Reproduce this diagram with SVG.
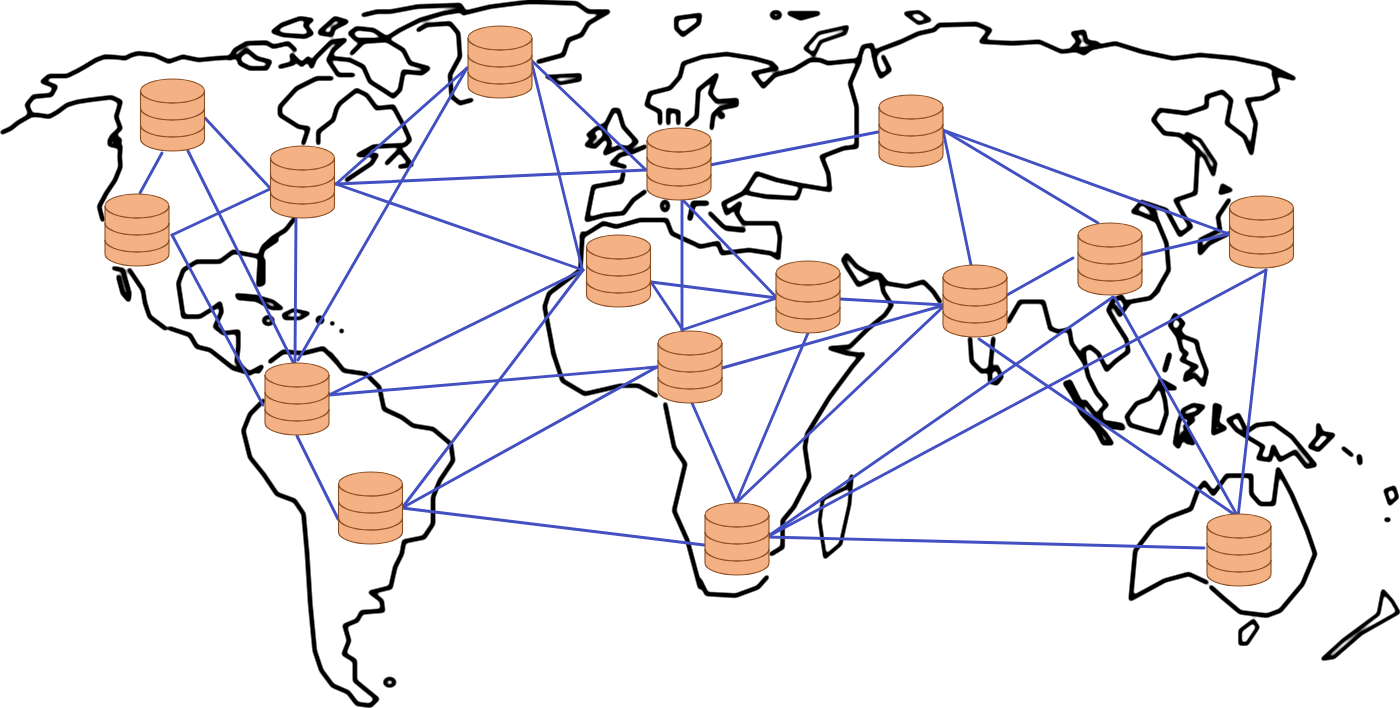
<svg xmlns="http://www.w3.org/2000/svg" width="1400" height="708" viewBox="0 0 1400 708">
<style>
.c{fill:none;stroke:#000;stroke-width:4.6;stroke-linejoin:round;stroke-linecap:round;vector-effect:non-scaling-stroke}
.t{stroke-width:3.8}
.h{stroke-width:5.6}
#links line{stroke:#4250c2;stroke-width:2.9;stroke-linecap:round}
.b{fill:#f4b183;stroke:#8a4f25;stroke-width:1.1}
.a{fill:none;stroke:#8a4f25;stroke-width:1.3}
</style>
<defs>
<filter id="soft" filterUnits="userSpaceOnUse" x="0" y="0" width="1400" height="708">
<feGaussianBlur stdDeviation="1.5"/>
<feComponentTransfer><feFuncA type="linear" slope="2.6" intercept="-.8"/></feComponentTransfer>
</filter>
<g id="db"><path class="b" d="M0,12A32,12 0 0 1 64,12V60A32,12 0 0 1 0,60Z"/><path class="a" d="M0,12A32,12 0 0 0 64,12M0,29A32,12 0 0 0 64,29M0,46A32,12 0 0 0 64,46"/></g>
</defs>
<rect width="1400" height="708" fill="#fff"/>
<g id="map" filter="url(#soft)">
<g id="q1" transform="scale(.4464,.3333)">
<polyline class="c" points="5,397 25,385 40,368 70,345 60,315 75,290 115,285 125,260 95,245 110,228 150,228 170,215 190,200 215,180 235,170 260,172 280,175 295,165 310,160 345,165 378,185 410,170 445,180 485,175 525,172"/>
<polyline class="c" points="65,345 85,345 110,350 130,335 150,315 175,305 200,300 250,292 270,305 265,330 260,350 270,385 250,410 270,440 268,470 270,500 258,540 238,580 222,620 230,660"/>
<polyline class="c t" points="245,420 255,405 270,420 262,440 245,435 245,420"/>
<polyline class="c" points="255,805 275,810 290,880 288,900 275,880 265,830"/>
<polyline class="c" points="290,810 320,870 325,910 335,950 370,985"/>
<polyline class="c" points="660,655 640,690 610,715 590,740 585,770"/>
<polyline class="c" points="1515,55 1568,45 1565,70 1530,105 1515,85 1515,55"/>
<polyline class="c" points="1305,700 1300,810 1230,880 1220,920 1240,1062"/>
</g>
<g id="canada" transform="translate(230,0) scale(.3333)">
<polyline class="c" points="0,175 15,150 50,130 110,128 130,140 175,130 195,150"/>
<polyline class="c" points="25,170 50,150 80,175 120,185 110,205 60,205 30,190 25,170"/>
<polyline class="c" points="130,95 155,75 210,55 245,60 225,75 245,100 225,110 160,105 130,95"/>
<polyline class="c" points="270,95 315,55 350,65 310,85 305,105 270,100"/>
<polyline class="c" points="150,200 190,190 185,165 215,195 235,175 245,200 255,175 305,125 345,120 310,150 295,180 325,225 370,225"/>
<polyline class="c" points="365,160 400,125 470,120 520,150 540,190 595,205 575,220 520,215 510,270 490,290 460,270 420,245 400,200 360,180 310,175"/>
<polyline class="c" points="400,45 440,35 480,35 560,20 690,15 700,30 640,40 570,60 510,90 470,115 430,90 380,85 360,100 380,120 470,120"/>
<polyline class="c" points="700,40 780,20 900,5 1040,10 1075,35 1135,35 1075,70 1055,105 1015,120 1000,165 925,185"/>
<polyline class="c" points="565,90 590,75 660,70 685,100 690,170 660,225 665,290 690,310 725,300"/>
<polyline class="c t" points="950,230 1050,225 1050,240 990,250 950,230"/>
<polyline class="c" points="305,235 260,235 200,265 150,320 150,345 205,380 235,385 220,430"/>
<polyline class="c" points="265,430 265,395 310,360 320,325 330,310 380,270 410,285 440,325 490,320 520,375 540,420 525,435 430,440 385,465 440,465 425,490 380,520 350,540"/>
<polyline class="c" points="470,490 510,450 545,495 510,500"/>
</g>
<g id="carib" transform="translate(170,240) scale(.3333)">
<polyline class="c" points="0,265 60,285 80,320 120,330 190,385 240,400 275,380 265,395"/>
<polyline class="c" points="270,50 190,35 150,65 80,65 40,90 25,130 40,230 90,230 130,205 150,190 155,215 135,260 160,280 205,275 205,320 200,365 235,400"/>
<polyline class="c" points="320,0 275,30 270,55 265,135 280,130 280,60"/>
<polyline class="c t" points="200,165 260,170 310,185 335,205 305,205 260,180 205,175 200,165"/>
<polyline class="c t" points="340,225 370,210 415,220 390,235 345,235 340,225"/>
<ellipse class="c t" cx="295" cy="242" rx="14" ry="11"/>
<circle cx="450" cy="240" r="14"/><circle cx="487" cy="250" r="8"/><circle cx="515" cy="273" r="8"/>
<polyline class="c" points="300,365 340,335 400,340 460,325 500,365"/>
</g>
<g id="q3" transform="translate(0,354) scale(.4464,.3333)">
<polyline class="c" points="740,0 770,50 820,60 850,100 860,165 900,190 925,215 970,225 1010,270 1015,320 985,380 970,430 970,510 950,550 905,562 900,600 885,640 875,700 830,715 855,740 858,770 810,775 800,800 772,815 782,860 770,900 795,920 795,980 845,1035 830,1055 800,1050 780,1015 745,995 720,950 705,890 695,750 688,600 680,480 660,440 620,420 590,360 560,310 545,230 560,180 590,140"/>
<circle class="c t" cx="873" cy="985" r="11"/>
<polyline class="c" points="1240,0 1260,80 1310,120 1390,95 1430,95 1470,125"/>
<polyline class="c" points="1490,150 1510,280 1535,330 1510,470 1540,560 1568,700"/>
</g>
<g id="europe" transform="translate(580,40) scale(.3333)">
<polyline class="c" points="100,210 115,210 130,260 170,305 145,325 120,320 75,340 90,310 70,270 100,210"/>
<polyline class="c" points="50,265 75,255 75,290 45,320 20,315 45,290 25,285 50,265"/>
<polyline class="c" points="195,320 160,335 120,345 95,370 135,380"/>
<polyline class="c" points="130,400 125,425 40,440 20,540 75,525 130,520 160,480 195,455"/>
<polyline class="c" points="240,250 240,215 200,195 210,160 270,145 300,110 310,70 370,50 440,42 520,55 575,70 590,85 520,100 550,140 585,105 640,90 690,60 720,60 745,70 840,60 810,130 830,200 830,320 790,325 725,350 745,400 750,450 660,435 590,420 530,400 505,440 490,460 430,490 440,520 480,490 470,520 490,550 590,550 600,590 595,651"/>
<polyline class="c" points="265,250 265,210 295,215 295,250"/>
<polyline class="c" points="320,255 350,230 355,150 410,105 390,160 410,185 470,180 470,195 420,205 400,225 395,265"/>
<circle cx="425" cy="227" r="11"/>
<polyline class="c" points="505,460 560,470 650,475 660,450"/>
<polyline class="c h" points="380,490 340,490 330,535"/>
<polyline class="c" points="390,520 430,560"/>
<polyline class="c h" points="440,565 490,570"/>
<ellipse class="c t" cx="255" cy="498" rx="10" ry="14"/>
<polyline class="c" points="5,590 30,575 70,550 110,560 180,540 260,540 275,580 340,610 360,620 414,609 426,640 507,630 573,640 595,654"/>
</g>
<g id="q2" transform="translate(700,0) scale(.4464,.3333)">
<polyline class="c t" points="235,145 265,100 330,80 325,100 270,125 255,165 235,145"/>
<circle class="c t" cx="170" cy="45" r="10"/>
<polyline class="c" points="200,40 265,40 225,55 200,40"/>
<polyline class="c t" points="460,40 490,35 515,60 490,70 460,40"/>
<polyline class="c" points="355,182 365,140 385,135 390,170 400,150 450,125 490,100 525,90 535,75 620,72 650,90 630,125 700,130 760,125 810,155 870,145 930,130 990,155 1060,175 1120,165 1200,175 1270,195 1330,235 1285,220 1295,270 1260,295 1225,300 1245,370 1235,460 1220,410 1180,370 1190,300 1170,275 1135,290 1135,320 1090,340 1030,330 1015,360 1040,400 1075,405 1115,450 1110,580 1065,600 1085,650 1100,680 1075,705 1045,630 1000,610 1020,650 1045,730 1050,810 1020,880"/>
<polyline class="c" points="390,170 395,200 405,230 425,210 410,170"/>
<polyline class="c" points="835,100 860,95 865,125 890,130 860,160 835,145 850,125 835,100"/>
<polyline class="c t" points="1090,400 1120,420 1155,490 1150,525 1130,470 1100,430 1090,400"/>
<polyline class="c t" points="1170,555 1190,570 1165,580 1170,555"/>
<polyline class="c" points="1185,600 1160,650 1165,690 1120,720 1120,760 1140,730 1185,700"/>
<polyline class="c" points="970,635 990,605 1020,640 1020,660 985,640 970,635"/>
</g>
<g id="india" transform="translate(830,250) scale(.3333)">
<polyline class="c" points="40,30 50,15 80,50 115,70 150,75 170,100 230,110 280,95 310,125 330,155"/>
<polyline class="c" points="40,30 50,50 85,105 130,85 150,75 160,125 185,165 165,195 110,240 60,290 0,295 50,310 95,315"/>
<polyline class="c" points="420,265 425,335 455,365 480,360 490,265"/>
<polyline class="c" points="480,365 500,350 515,380 500,400 480,395 480,365"/>
<polyline class="c" points="535,215 570,155 640,155 660,232"/>
</g>
<g id="seasia" transform="translate(1050,290) scale(.3333)">
<polyline class="c" points="0,115 25,125 58,118 65,160 85,190 105,220 115,260 140,310 170,345 150,365 155,395 215,405 220,415 180,410 145,385 105,335 90,350"/>
<polyline class="c" points="105,220 100,180 120,170 145,190 170,240 195,215 235,185 230,150 195,95 175,60 190,30 215,20 225,40 240,35 300,25 325,0"/>
<polyline class="c" points="195,50 210,75 235,40"/>
<polyline class="c" points="45,280 60,275 90,335 100,365 135,400 165,430 185,460 160,460 140,420 95,370 70,320 45,280"/>
<polyline class="c" points="360,105 375,75 400,100 385,120 400,140 440,155 445,180 470,245 460,285 435,255 405,270 410,250 440,230 395,210 410,190 395,180 385,140 360,105"/>
<polyline class="c h" points="358,195 345,240"/>
<polyline class="c" points="330,280 345,330 350,370 330,430 290,420 240,405 230,380 260,340 300,325 330,280"/>
<polyline class="c" points="330,270 375,295 350,295"/>
<polyline class="c" points="375,460 385,400 400,360 430,345 460,350 440,370 405,380 430,390 405,410 430,460 410,455 400,430 385,470 375,460"/>
<polyline class="c" points="495,345 510,350 500,400 525,415 490,430 495,345"/>
<polyline class="c" points="535,390 565,375 590,425 620,405 670,400 725,440 795,525 770,530 735,485 690,510 670,470 660,510 625,505 640,470 590,440 560,420 535,390"/>
<polyline class="c" points="805,405 815,430 850,435 805,480 780,470 805,440 805,405"/>
<polyline class="c" points="880,475 905,495"/>
<polyline class="c h" points="928,500 930,518"/>
</g>
<g id="q4" transform="translate(700,354) scale(.4464,.3333)">
<polyline class="c" points="0,680 15,720 80,725 130,700 150,670"/>
<polyline class="c" points="365,0 340,40 290,130 240,240 235,280 245,370 210,460 185,500 185,580 160,600"/>
<polyline class="c t" points="340,365 330,400 275,435 268,500 280,610 315,570 335,450 340,365"/>
<polyline class="c t" points="1535,410 1555,400 1562,430 1545,450 1535,410"/>
<circle cx="1540" cy="497" r="8"/>
<polyline class="c" points="1115,410 1130,385 1150,420 1180,365 1235,365 1235,420 1255,450 1285,450 1295,345 1325,420 1360,530 1378,600 1350,690 1300,770 1270,785 1210,775 1170,730 1145,700"/>
<polyline class="c" points="1135,685 1095,660 1040,680 965,735 975,590 1015,520 1050,490 1100,465 1115,410"/>
<polyline class="c t" points="1240,800 1250,820 1225,870 1210,870 1210,830 1240,800"/>
<polyline class="c t" points="1530,710 1550,740 1565,775 1480,840 1420,910 1395,915 1440,860 1520,780 1530,710"/>
</g>
</g>
<g id="links">
<line x1="162" y1="153" x2="140" y2="193"/>
<line x1="205" y1="118" x2="269" y2="187"/>
<line x1="188" y1="151" x2="293" y2="362"/>
<line x1="172" y1="235" x2="270" y2="189"/>
<line x1="172" y1="235" x2="263" y2="405"/>
<line x1="336" y1="184" x2="467" y2="68"/>
<line x1="336" y1="184" x2="646" y2="170"/>
<line x1="336" y1="184" x2="583" y2="270"/>
<line x1="296" y1="217" x2="295" y2="362"/>
<line x1="467" y1="68" x2="298" y2="360"/>
<line x1="531" y1="60" x2="646" y2="170"/>
<line x1="531" y1="60" x2="582" y2="268"/>
<line x1="710" y1="165" x2="878" y2="132"/>
<line x1="680" y1="197" x2="777" y2="298"/>
<line x1="682" y1="197" x2="682" y2="330"/>
<line x1="943" y1="130" x2="971" y2="265"/>
<line x1="943" y1="130" x2="1098" y2="223"/>
<line x1="943" y1="130" x2="1229" y2="234"/>
<line x1="1140" y1="255" x2="1229" y2="234"/>
<line x1="1007" y1="295" x2="1073" y2="258"/>
<line x1="840" y1="299" x2="945" y2="305"/>
<line x1="651" y1="282" x2="777" y2="298"/>
<line x1="651" y1="282" x2="683" y2="330"/>
<line x1="682" y1="330" x2="777" y2="298"/>
<line x1="722" y1="368" x2="945" y2="305"/>
<line x1="808" y1="333" x2="736" y2="503"/>
<line x1="945" y1="305" x2="736" y2="503"/>
<line x1="692" y1="403" x2="736" y2="503"/>
<line x1="583" y1="270" x2="329" y2="395"/>
<line x1="583" y1="270" x2="402" y2="508"/>
<line x1="657" y1="367" x2="329" y2="395"/>
<line x1="657" y1="367" x2="402" y2="508"/>
<line x1="297" y1="436" x2="338" y2="519"/>
<line x1="402" y1="508" x2="704" y2="545"/>
<line x1="767" y1="537" x2="1204" y2="548"/>
<line x1="767" y1="537" x2="1113" y2="297"/>
<line x1="767" y1="537" x2="1266" y2="270"/>
<line x1="979" y1="339" x2="1238" y2="517"/>
<line x1="1115" y1="298" x2="1238" y2="517"/>
<line x1="1266" y1="270" x2="1238" y2="517"/>
</g>
<g id="n1" transform="translate(140.5,79)"><use href="#db"/></g>
<g id="n2" transform="translate(270.5,146)"><use href="#db"/></g>
<g id="n3" transform="translate(105,194)"><use href="#db"/></g>
<g id="n4" transform="translate(468,26)"><use href="#db"/></g>
<g id="n5" transform="translate(647,128)"><use href="#db"/></g>
<g id="n6" transform="translate(879,95)"><use href="#db"/></g>
<g id="n7" transform="translate(586.5,235)"><use href="#db"/></g>
<g id="n8" transform="translate(776,261)"><use href="#db"/></g>
<g id="n9" transform="translate(943,265)"><use href="#db"/></g>
<g id="n10" transform="translate(1078,223)"><use href="#db"/></g>
<g id="n11" transform="translate(1229.5,196)"><use href="#db"/></g>
<g id="n12" transform="translate(658,331)"><use href="#db"/></g>
<g id="n13" transform="translate(265,363)"><use href="#db"/></g>
<g id="n14" transform="translate(338.5,472)"><use href="#db"/></g>
<g id="n15" transform="translate(705,503)"><use href="#db"/></g>
<g id="n16" transform="translate(1207,514)"><use href="#db"/></g>
</svg>
